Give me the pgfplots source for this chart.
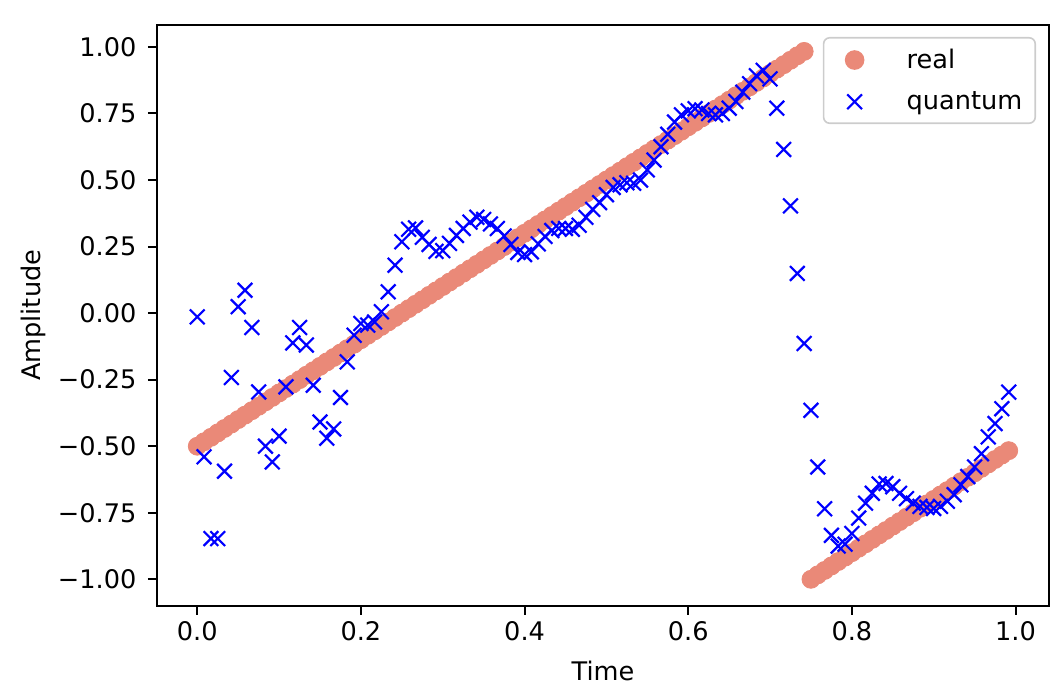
\documentclass[border=0pt]{standalone}
\usepackage{fontspec}
\setmainfont{DejaVu Sans}
\usepackage{pgfplots}
\usepackage{pgfplotstable}
\pgfplotsset{compat=1.18}
\definecolor{salmonc}{RGB}{234,137,120}
\definecolor{qblue}{RGB}{0,0,255}
\pgfplotsset{
  myimg/.style={legend image code/.code={\path[draw=none,fill=none] (0pt,0pt) -- (35pt,0pt); \draw[##1, only marks, opacity=1, fill opacity=1, draw opacity=1] plot coordinates {(11pt,0pt)};}},
}
\pgfplotstableread{
t r q
0.0000 -0.5000 -0.014
0.0083 -0.4833 -0.540
0.0167 -0.4667 -0.847
0.0250 -0.4500 -0.847
0.0333 -0.4333 -0.594
0.0417 -0.4167 -0.242
0.0500 -0.4000 0.024
0.0583 -0.3833 0.086
0.0667 -0.3667 -0.054
0.0750 -0.3500 -0.296
0.0833 -0.3333 -0.500
0.0917 -0.3167 -0.559
0.1000 -0.3000 -0.462
0.1083 -0.2833 -0.277
0.1167 -0.2667 -0.112
0.1250 -0.2500 -0.054
0.1333 -0.2333 -0.120
0.1417 -0.2167 -0.271
0.1500 -0.2000 -0.409
0.1583 -0.1833 -0.470
0.1667 -0.1667 -0.435
0.1750 -0.1500 -0.317
0.1833 -0.1333 -0.183
0.1917 -0.1167 -0.083
0.2000 -0.1000 -0.039
0.2083 -0.0833 -0.045
0.2167 -0.0667 -0.033
0.2250 -0.0500 0.005
0.2333 -0.0333 0.080
0.2417 -0.0167 0.180
0.2500 0.0000 0.268
0.2583 0.0167 0.315
0.2667 0.0333 0.320
0.2750 0.0500 0.285
0.2833 0.0667 0.258
0.2917 0.0833 0.232
0.3000 0.1000 0.235
0.3083 0.1167 0.262
0.3167 0.1333 0.292
0.3250 0.1500 0.318
0.3333 0.1667 0.342
0.3417 0.1833 0.360
0.3500 0.2000 0.352
0.3583 0.2167 0.335
0.3667 0.2333 0.318
0.3750 0.2500 0.290
0.3833 0.2667 0.258
0.3917 0.2833 0.228
0.4000 0.3000 0.220
0.4083 0.3167 0.230
0.4167 0.3333 0.260
0.4250 0.3500 0.288
0.4333 0.3667 0.310
0.4417 0.3833 0.318
0.4500 0.4000 0.318
0.4583 0.4167 0.315
0.4667 0.4333 0.330
0.4750 0.4500 0.360
0.4833 0.4667 0.390
0.4917 0.4833 0.415
0.5000 0.5000 0.445
0.5083 0.5167 0.472
0.5167 0.5333 0.482
0.5250 0.5500 0.490
0.5333 0.5667 0.488
0.5417 0.5833 0.500
0.5500 0.6000 0.538
0.5583 0.6167 0.575
0.5667 0.6333 0.625
0.5750 0.6500 0.672
0.5833 0.6667 0.718
0.5917 0.6833 0.745
0.6000 0.7000 0.760
0.6083 0.7167 0.768
0.6167 0.7333 0.763
0.6250 0.7500 0.750
0.6333 0.7667 0.745
0.6417 0.7833 0.750
0.6500 0.8000 0.770
0.6583 0.8167 0.795
0.6667 0.8333 0.830
0.6750 0.8500 0.862
0.6833 0.8667 0.892
0.6917 0.8833 0.912
0.7000 0.9000 0.880
0.7083 0.9167 0.770
0.7167 0.9333 0.615
0.7250 0.9500 0.403
0.7333 0.9667 0.149
0.7417 0.9833 -0.114
0.7500 -1.0000 -0.365
0.7583 -0.9833 -0.578
0.7667 -0.9667 -0.735
0.7750 -0.9500 -0.835
0.7833 -0.9333 -0.875
0.7917 -0.9167 -0.868
0.8000 -0.9000 -0.828
0.8083 -0.8833 -0.770
0.8167 -0.8667 -0.714
0.8250 -0.8500 -0.677
0.8333 -0.8333 -0.642
0.8417 -0.8167 -0.640
0.8500 -0.8000 -0.652
0.8583 -0.7833 -0.677
0.8667 -0.7667 -0.697
0.8750 -0.7500 -0.714
0.8833 -0.7333 -0.726
0.8917 -0.7167 -0.730
0.9000 -0.7000 -0.734
0.9083 -0.6833 -0.726
0.9167 -0.6667 -0.707
0.9250 -0.6500 -0.682
0.9333 -0.6333 -0.645
0.9417 -0.6167 -0.614
0.9500 -0.6000 -0.578
0.9583 -0.5833 -0.528
0.9667 -0.5667 -0.465
0.9750 -0.5500 -0.415
0.9833 -0.5333 -0.359
0.9917 -0.5167 -0.297
}\data
\begin{document}
\begin{tikzpicture}[font=\fontsize{12.8}{15.4}\selectfont]
\useasboundingbox (-78.35pt,-47.15pt) rectangle (453.65pt,302.85pt);
\begin{axis}[
  at={(0pt,0pt)}, anchor=south west,
  scale only axis, width=446.3pt, height=290.35pt,
  xmin=-0.0496, xmax=1.0413, ymin=-1.0992, ymax=1.0825,
  axis line style={line width=1pt},
  tick align=outside, major tick length=4.4pt,
  major tick style={black, line width=1pt},
  xtick={0,0.2,0.4,0.6,0.8,1}, xticklabels={0.0,0.2,0.4,0.6,0.8,1.0},
  ytick={-1,-0.75,-0.5,-0.25,0,0.25,0.5,0.75,1},
  yticklabels={−1.00,−0.75,−0.50,−0.25,0.00,0.25,0.50,0.75,1.00},
  xtick pos=bottom, ytick pos=left,
  yticklabel style={xshift=-2.2pt},
  xlabel={Time}, ylabel={Amplitude},
  every axis x label/.style={at={(axis description cs:0.5,-0.1124)}, anchor=center},
  every axis y label/.style={at={(axis description cs:-0.1386,0.5)}, anchor=center, rotate=90},
  legend cell align=left,
  legend style={at={(1,1)}, anchor=north east, xshift=-6.65pt, yshift=-6pt,
    draw=black!20, line width=0.8pt, rounded corners=3pt, fill=white,
    fill opacity=0.8, text opacity=1, inner xsep=4.5pt, inner ysep=3.5pt,
    row sep=6pt, nodes={inner sep=2pt}},
]
\addplot[only marks, mark=*, mark size=4.5pt, color=salmonc,
  mark options={draw=none, fill=salmonc}, myimg]
  table[x=t, y=r]{\data};
\addlegendentry{real}
\addplot[only marks, mark=x, mark size=5.2pt, color=qblue, line width=1.1pt, myimg]
  table[x=t, y=q]{\data};
\addlegendentry{quantum}
\end{axis}
\end{tikzpicture}
\end{document}
